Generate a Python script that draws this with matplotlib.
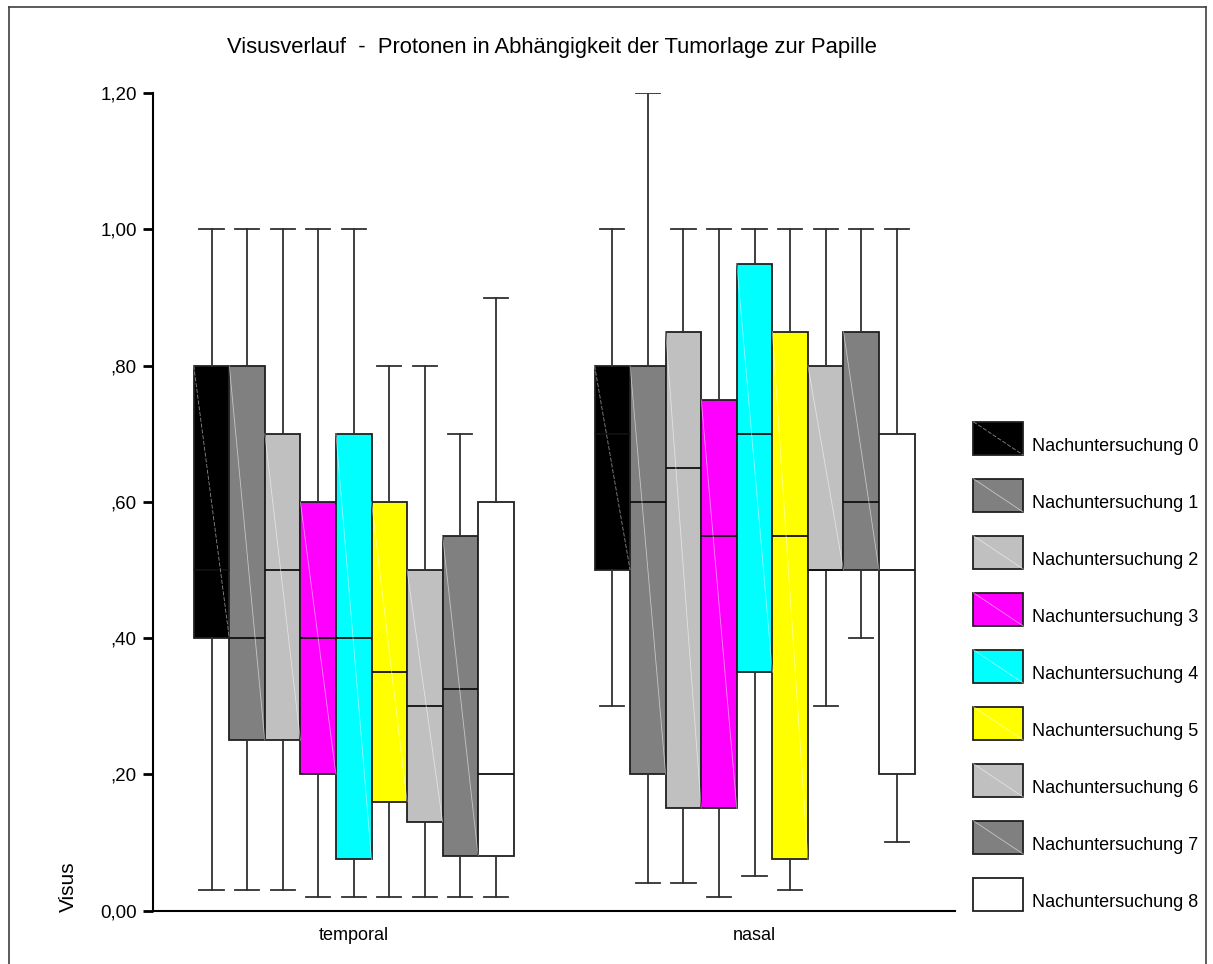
import numpy as np
import matplotlib.pyplot as plt
from matplotlib.patches import Rectangle
from matplotlib.lines import Line2D

plt.rcParams['font.family'] = ['Liberation Sans', 'DejaVu Sans']

W, H = 1213, 964

groups = ["temporal", "nasal"]
series = ["Nachuntersuchung %d" % i for i in range(9)]
colors = ["#000000", "#808080", "#c0c0c0", "#ff00ff", "#00ffff",
          "#ffff00", "#c0c0c0", "#808080", "#ffffff"]

# five-number summaries per follow-up exam: whislo, q1, median, q3, whishi
temporal_lo = [0.03, 0.03, 0.03, 0.02, 0.02, 0.02, 0.02, 0.02, 0.02]
temporal_q1 = [0.40, 0.25, 0.25, 0.20, 0.075, 0.16, 0.13, 0.08, 0.08]
temporal_med = [0.50, 0.40, 0.50, 0.40, 0.40, 0.35, 0.30, 0.325, 0.20]
temporal_q3 = [0.80, 0.80, 0.70, 0.60, 0.70, 0.60, 0.50, 0.55, 0.60]
temporal_hi = [1.00, 1.00, 1.00, 1.00, 1.00, 0.80, 0.80, 0.70, 0.90]

nasal_lo = [0.30, 0.04, 0.04, 0.02, 0.05, 0.03, 0.30, 0.40, 0.10]
nasal_q1 = [0.50, 0.20, 0.15, 0.15, 0.35, 0.075, 0.50, 0.50, 0.20]
nasal_med = [0.70, 0.60, 0.65, 0.55, 0.70, 0.55, 0.50, 0.60, 0.50]
nasal_q3 = [0.80, 0.80, 0.85, 0.75, 0.95, 0.85, 0.80, 0.85, 0.70]
nasal_hi = [1.00, 1.20, 1.00, 1.00, 1.00, 1.00, 1.00, 1.00, 1.00]

yticks = [0.0, 0.2, 0.4, 0.6, 0.8, 1.0, 1.2]
ytick_labels = ["0,00", ",20", ",40", ",60", ",80", "1,00", "1,20"]


def fx(x):
    return x / W


def fy(y):
    return 1 - y / H


def diag_style(c):
    # faint stroke drawn across each filled swatch
    if c == "#000000":
        return dict(color="#8a8a8a", lw=0.6, dashes=(5, 2))
    return dict(color="white", lw=0.6, alpha=0.55)


fig = plt.figure(figsize=(W / 100, H / 100), dpi=100)
ax = fig.add_axes([fx(153.3), fy(910.5), fx(955) - fx(153.3), fy(93.3) - fy(910.5)])

box_w = 0.0887
n = len(series)
stats_by_group = [
    (temporal_lo, temporal_q1, temporal_med, temporal_q3, temporal_hi),
    (nasal_lo, nasal_q1, nasal_med, nasal_q3, nasal_hi),
]

for g, (lo, q1, med, q3, hi) in enumerate(stats_by_group):
    center = g + 0.5
    positions = center + (np.arange(n) - (n - 1) / 2) * box_w
    stats = [dict(whislo=lo[i], q1=q1[i], med=med[i], q3=q3[i], whishi=hi[i],
                  fliers=[]) for i in range(n)]
    res = ax.bxp(stats, positions=positions, widths=box_w, capwidths=box_w * 0.68,
                 patch_artist=True, showfliers=False, manage_ticks=False,
                 boxprops=dict(linewidth=1.3, edgecolor="#202020"),
                 whiskerprops=dict(linewidth=1.3, color="#303030"),
                 capprops=dict(linewidth=1.3, color="#303030"),
                 medianprops=dict(linewidth=1.3, color="#101010"))
    for i, box in enumerate(res["boxes"]):
        box.set_facecolor(colors[i])
        if colors[i] != "#ffffff":
            ax.plot([positions[i] - box_w / 2, positions[i] + box_w / 2],
                    [q3[i], q1[i]], zorder=2.5, **diag_style(colors[i]))

ax.set_xlim(0, 2)
ax.set_ylim(0, 1.2)
ax.set_yticks(yticks)
ax.set_yticklabels(ytick_labels)
ax.set_xticks([0.5, 1.5])
ax.set_xticklabels(groups)
ax.spines["top"].set_visible(False)
ax.spines["right"].set_visible(False)
ax.spines["left"].set_linewidth(1.5)
ax.spines["bottom"].set_linewidth(1.5)
ax.tick_params(axis="y", direction="out", length=7, width=2, pad=5, labelsize=13.5)
ax.tick_params(axis="x", length=0, pad=12, labelsize=13)

fig.text(fx(68), fy(912), "Visus", rotation=90, ha="center", va="bottom", fontsize=15)
fig.text(fx(552), fy(47), "Visusverlauf  -  Protonen in Abhängigkeit der Tumorlage zur Papille",
         ha="center", va="center", fontsize=15.8)

# legend swatches drawn on the figure canvas
for i, (label, c) in enumerate(zip(series, colors)):
    top = 421.7 + 57 * i
    fig.add_artist(Rectangle((fx(973.3), fy(top + 33.4)), fx(50), 33.4 / H,
                             transform=fig.transFigure, facecolor=c,
                             edgecolor="#202020", linewidth=1.3))
    if c != "#ffffff":
        fig.add_artist(Line2D([fx(973.3), fx(1023.3)], [fy(top), fy(top + 33.4)],
                              transform=fig.transFigure, **diag_style(c)))
    fig.text(fx(1031.7), fy(top + 33), label, ha="left", va="bottom", fontsize=13)

# outer frame
for xs, ys in [([9, 9], [7, H + 5]), ([9, 1206], [7, 7]), ([1206, 1206], [7, H + 5])]:
    fig.add_artist(Line2D([fx(x) for x in xs], [fy(y) for y in ys],
                          transform=fig.transFigure, color="#404040", lw=1.2))

fig.savefig("out.png", dpi=100)
